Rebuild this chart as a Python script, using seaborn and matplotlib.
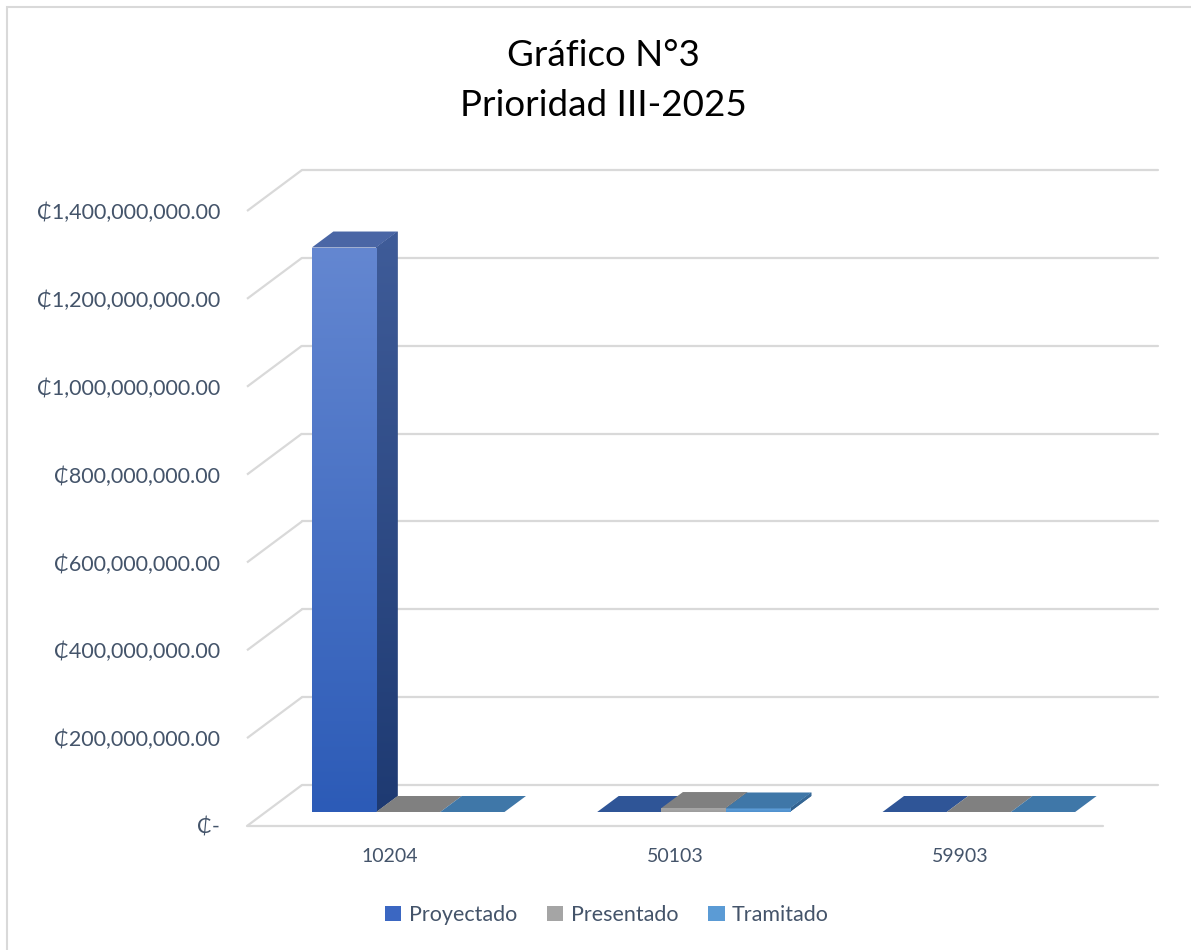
import numpy as np
import pandas as pd
import matplotlib
matplotlib.use("Agg")
import matplotlib.pyplot as plt
from matplotlib.patches import Polygon, Patch, Rectangle
from matplotlib.colors import LinearSegmentedColormap, to_rgb
import seaborn as sns

# datos del grafico
codigos = ["10204", "50103", "59903"]
series = ["Proyectado", "Presentado", "Tramitado"]
proyectado = [1_285_000_000, 0, 0]
presentado = [0, 9_000_000, 0]
tramitado = [0, 8_000_000, 0]
y_ticks = [0, 200_000_000, 400_000_000, 600_000_000, 800_000_000,
           1_000_000_000, 1_200_000_000, 1_400_000_000]

df = pd.DataFrame({
    "Codigo": codigos * 3,
    "Serie": np.repeat(series, 3),
    "Monto": proyectado + presentado + tramitado,
})

# colores (caras de las barras 3D)
frente_inf = {"Proyectado": "#2C5BB7", "Presentado": "#9C9C9C", "Tramitado": "#4E90CE"}
frente_sup = {"Proyectado": "#6487D1", "Presentado": "#A9A9A9", "Tramitado": "#62A2DB"}
lado_inf = {"Proyectado": "#1E3A72", "Presentado": "#6A6A6A", "Tramitado": "#2F5F8C"}
lado_sup = {"Proyectado": "#3F5C99", "Presentado": "#777777", "Tramitado": "#3A6D9C"}
techo = {"Proyectado": "#2F5597", "Presentado": "#808080", "Tramitado": "#3F77A8"}
techo_alto = {"Proyectado": "#4A66A5", "Presentado": "#8A8A8A", "Tramitado": "#5585B5"}
leyenda_col = {"Proyectado": "#3B67C2", "Presentado": "#A5A5A5", "Tramitado": "#5B9BD5"}
gris_grid = "#D9D9D9"
texto = "#44546A"

sns.set_style("white")
plt.rcParams['font.family'] = ['Lato', 'DejaVu Sans']

W, H = 1191, 950
fig = plt.figure(figsize=(W / 100, H / 100), dpi=100)
ax = fig.add_axes([247 / W, (H - 826) / H, 856 / W, 615 / H])

sns.barplot(data=df, x="Codigo", y="Monto", hue="Serie", hue_order=series,
            palette=frente_inf, width=0.675, legend=False, ax=ax)

ax.set_xlim(-0.5, 2.5)
ax.set_ylim(0, 1.4e9)

px_x = 856 / 3
px_y = 615 / 1.4e9
def dx(p):
    return p / px_x
def dy(p):
    return p / px_y

# paredes (lineas de cuadricula)
for v in y_ticks:
    ax.plot([-0.5, -0.5 + dx(55)], [v, v + dy(41)], color=gris_grid, lw=1.6,
            clip_on=False, zorder=1, solid_capstyle='butt')
    ax.plot([-0.5 + dx(55), 2.5 + dx(55)], [v + dy(41)] * 2, color=gris_grid,
            lw=1.6, clip_on=False, zorder=1)
ax.plot([-0.5, 2.5], [0, 0], color=gris_grid, lw=1.6, clip_on=False, zorder=1)

# barras 3D
ox, oy = dx(18.5), dy(14)
px_, py_ = dx(21.5), dy(16)
grad = np.linspace(0, 1, 256).reshape(-1, 1)
for j, (cont, serie) in enumerate(zip(ax.containers, series)):
    z = 3 + j
    for p in cont.patches:
        x0, w, h = p.get_x(), p.get_width(), p.get_height()
        x0 = x0 + ox
        p.set_x(x0)
        p.set_y(oy)
        p.set_edgecolor("none")
        p.set_zorder(z + 0.02)
        p.set_clip_on(False)
        if h > 0:
            cm_f = LinearSegmentedColormap.from_list("f", [frente_inf[serie], frente_sup[serie]])
            im = ax.imshow(grad, extent=(x0, x0 + w, oy, oy + h), origin='lower',
                           cmap=cm_f, aspect='auto', zorder=z + 0.03)
            im.set_clip_path(p)
            lado = Polygon([(x0 + w, oy), (x0 + w + px_, oy + py_),
                            (x0 + w + px_, oy + h + py_), (x0 + w, oy + h)],
                           closed=True, facecolor=lado_inf[serie], edgecolor="none",
                           zorder=z, clip_on=False)
            ax.add_patch(lado)
            cm_l = LinearSegmentedColormap.from_list("l", [lado_inf[serie], lado_sup[serie]])
            im2 = ax.imshow(grad, extent=(x0 + w, x0 + w + px_, oy, oy + h + py_),
                            origin='lower', cmap=cm_l, aspect='auto', zorder=z + 0.01)
            im2.set_clip_path(lado)
        frac = h / 1.4e9
        c0, c1 = np.array(to_rgb(techo[serie])), np.array(to_rgb(techo_alto[serie]))
        ctop = c0 + (c1 - c0) * min(1, frac * 1.1)
        ax.add_patch(Polygon([(x0, oy + h), (x0 + px_, oy + h + py_),
                              (x0 + w + px_, oy + h + py_), (x0 + w, oy + h)],
                             closed=True, facecolor=ctop, edgecolor="none",
                             zorder=z + 0.04, clip_on=False))

ax.set_xlim(-0.5, 2.5)
ax.set_ylim(0, 1.4e9)

etiquetas_y = ["₵-" if v == 0 else "₵{:,.2f}".format(v) for v in y_ticks]
ax.set_yticks(y_ticks, labels=etiquetas_y)
ax.tick_params(axis='y', length=0, pad=19.5, labelsize=15.5, labelcolor=texto)
ax.tick_params(axis='x', length=0, pad=16, labelsize=14, labelcolor=texto)
ax.set_xlabel("")
ax.set_ylabel("")
for s in ax.spines.values():
    s.set_visible(False)
ax.patch.set_alpha(0)

# titulo
fig.text(603 / W, 1 - 55 / H, "Gráfico N°3", ha='center', va='center', fontsize=26.5, color='black')
fig.text(603 / W, 1 - 105 / H, "Prioridad III-2025", ha='center', va='center', fontsize=26.5, color='black')

# leyenda
manijas = [Patch(facecolor=leyenda_col[s], edgecolor='none') for s in series]
fig.legend(manijas, series, loc='center', bbox_to_anchor=(607 / W, 1 - 915 / H), ncol=3,
           frameon=False, fontsize=15.5, handlelength=0.75, handleheight=0.75,
           columnspacing=1.4, handletextpad=0.35, labelcolor=texto)

# borde del area del grafico
fig.add_artist(Rectangle((6.5 / W, -0.1), 1.2, (H - 6.5) / H + 0.1, transform=fig.transFigure,
                         fill=False, edgecolor=gris_grid, lw=1.5))

fig.savefig("out.png", dpi=100)
